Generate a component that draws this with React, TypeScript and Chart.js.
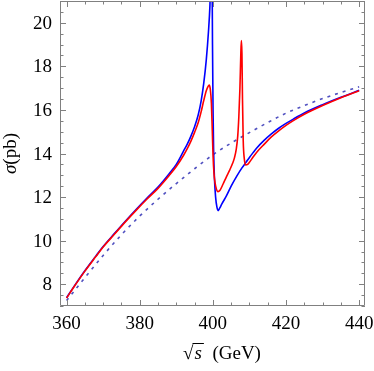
import React, { useEffect, useRef } from "react";
import { Chart, registerables } from "chart.js";

Chart.register(...registerables);

// Axis ranges and ticks
const X_MIN = 358.2;
const X_MAX = 441.6;
const Y_MIN = 7;
const Y_MAX = 21;
const xMajorTicks = [360, 380, 400, 420, 440];
const xTickLabels = ["360", "380", "400", "420", "440"];
const yMajorTicks = [8, 10, 12, 14, 16, 18, 20];
const yTickLabels = ["8", "10", "12", "14", "16", "18", "20"];
const X_MINOR_STEP = 5;
const Y_MINOR_STEP = 0.5;

// Red solid curve
const redX = [360, 362, 365, 368, 370, 373, 376, 379, 382, 385, 388, 390, 392, 393, 394, 395, 396, 396.8, 397.5, 398.2, 398.7, 399.0, 399.3, 399.6, 399.85, 400.05, 400.3, 400.6, 401.0, 401.4, 401.9, 402.8, 403.7, 404.6, 405.4, 405.9, 406.4, 406.8, 407.1, 407.4, 407.65, 407.8, 407.95, 408.1, 408.3, 408.6, 409.0, 409.5, 410, 411, 412, 414, 416, 418, 420, 422, 425, 430, 435, 440];
const redY = [7.36, 7.87, 8.6, 9.27, 9.71, 10.28, 10.85, 11.39, 11.91, 12.4, 12.98, 13.4, 13.92, 14.22, 14.57, 14.97, 15.42, 15.92, 16.43, 16.88, 17.08, 17.14, 16.95, 16.3, 15.0, 13.9, 13.1, 12.65, 12.35, 12.25, 12.3, 12.6, 12.93, 13.24, 13.55, 13.8, 14.2, 14.8, 15.69, 17.0, 18.6, 19.18, 18.6, 16.5, 14.6, 13.75, 13.47, 13.5, 13.6, 13.84, 14.06, 14.42, 14.76, 15.04, 15.29, 15.51, 15.8, 16.2, 16.56, 16.88];

// Blue solid curve
const blueX = [360, 362, 365, 368, 370, 373, 376, 379, 382, 385, 388, 390, 392, 393, 394, 395, 396, 396.8, 397.5, 398.2, 398.8, 399.2, 399.5, 399.7, 399.9, 400.05, 400.2, 400.45, 400.75, 401.1, 401.45, 401.9, 402.5, 403.7, 405, 406.5, 408, 409, 410, 411, 412, 414, 416, 418, 420, 422, 425, 430, 435, 440];
const blueY = [7.38, 7.89, 8.62, 9.29, 9.73, 10.31, 10.88, 11.43, 11.96, 12.46, 13.06, 13.5, 14.12, 14.43, 14.8, 15.23, 15.78, 16.42, 17.22, 18.3, 19.6, 20.8, 22.5, 24.0, 19.0, 16.0, 14.2, 12.8, 12.0, 11.55, 11.38, 11.5, 11.7, 12.05, 12.5, 12.95, 13.35, 13.58, 13.82, 14.04, 14.25, 14.6, 14.9, 15.16, 15.38, 15.58, 15.86, 16.24, 16.58, 16.9];

// Dashed curve
const dashX = [360, 365, 370, 375, 380, 385, 390, 395, 400, 405, 410, 415, 420, 425, 430, 435, 440];
const dashY = [7.25, 8.3, 9.32, 10.27, 11.13, 11.9, 12.62, 13.3, 13.94, 14.48, 14.96, 15.42, 15.85, 16.2, 16.52, 16.8, 17.06];

const FONT = "'Liberation Serif', 'Times New Roman', serif";
const FRAME_COLOR = "#808080";

const toPoints = (xs: number[], ys: number[]) => xs.map((x, i) => ({ x, y: ys[i] }));

const framePlugin = {
  id: "mmaFrame",
  afterDatasetsDraw(chart: any) {
    const { ctx, chartArea } = chart;
    const xs = chart.scales.x;
    const ys = chart.scales.y;
    const { left, right, top, bottom } = chartArea;
    ctx.save();
    // frame
    ctx.strokeStyle = FRAME_COLOR;
    ctx.lineWidth = 1;
    ctx.beginPath();
    ctx.rect(left + 0.5, top + 0.5, right - left - 1, bottom - top - 1);
    ctx.stroke();

    const MAJ = 6;
    const MIN = 3.5;
    ctx.beginPath();
    // x ticks
    for (let v = 360; v <= 440 + 1e-9; v += X_MINOR_STEP) {
      const px = Math.round(xs.getPixelForValue(v)) + 0.5;
      const len = xMajorTicks.includes(v) ? MAJ : MIN;
      ctx.moveTo(px, bottom);
      ctx.lineTo(px, bottom - len);
      ctx.moveTo(px, top);
      ctx.lineTo(px, top + len);
    }
    // y ticks
    for (let v = Y_MIN; v <= Y_MAX + 1e-9; v += Y_MINOR_STEP) {
      const py = Math.round(ys.getPixelForValue(v)) + 0.5;
      const len = yMajorTicks.includes(v) ? MAJ : MIN;
      ctx.moveTo(left, py);
      ctx.lineTo(left + len, py);
      ctx.moveTo(right, py);
      ctx.lineTo(right - len, py);
    }
    ctx.stroke();

    // tick labels
    ctx.fillStyle = "#000";
    ctx.font = `19px ${FONT}`;
    ctx.textBaseline = "alphabetic";
    ctx.textAlign = "center";
    xMajorTicks.forEach((v, i) => {
      ctx.fillText(xTickLabels[i], xs.getPixelForValue(v), bottom + 23);
    });
    ctx.textAlign = "right";
    yMajorTicks.forEach((v, i) => {
      ctx.fillText(yTickLabels[i], left - 8, ys.getPixelForValue(v) + 6);
    });

    // x title: sqrt(s) (GeV)
    ctx.textAlign = "left";
    const base = 359;
    const regular = `19px ${FONT}`;
    const italic = `italic 19px ${FONT}`;
    ctx.font = regular;
    const wSqrt = ctx.measureText("\u221A").width;
    const wRest = ctx.measureText("  (GeV)").width;
    ctx.font = italic;
    const wS = ctx.measureText("s").width;
    const total = wSqrt + wS + 2 + wRest;
    const x0 = 222 - total / 2;
    ctx.font = regular;
    ctx.fillText("\u221A", x0, base);
    ctx.font = italic;
    ctx.fillText("s", x0 + wSqrt + 1, base);
    ctx.strokeStyle = "#000";
    ctx.lineWidth = 1;
    ctx.beginPath();
    ctx.moveTo(x0 + wSqrt - 1, base - 15.5);
    ctx.lineTo(x0 + wSqrt + wS + 3, base - 15.5);
    ctx.stroke();
    ctx.font = regular;
    ctx.fillText("  (GeV)", x0 + wSqrt + wS + 2, base);

    // y title: sigma(pb)
    ctx.save();
    ctx.translate(16, 153.5);
    ctx.rotate(-Math.PI / 2);
    ctx.font = italic;
    const wSig = ctx.measureText("\u03C3").width;
    ctx.font = regular;
    const wPb = ctx.measureText("(pb)").width;
    const start = -(wSig + wPb) / 2;
    ctx.font = italic;
    ctx.fillText("\u03C3", start, 0);
    ctx.font = regular;
    ctx.fillText("(pb)", start + wSig, 0);
    ctx.restore();

    ctx.restore();
  },
};

export default function App() {
  const canvasRef = useRef<HTMLCanvasElement | null>(null);

  useEffect(() => {
    if (!canvasRef.current) return;
    const chart = new Chart(canvasRef.current, {
      type: "line",
      data: {
        datasets: [
          {
            label: "red",
            data: toPoints(redX, redY),
            borderColor: "#ff0000",
            borderWidth: 1.6,
            pointRadius: 0,
            cubicInterpolationMode: "monotone",
            fill: false,
          },
          {
            label: "blue",
            data: toPoints(blueX, blueY),
            borderColor: "#0000ff",
            borderWidth: 1.6,
            pointRadius: 0,
            cubicInterpolationMode: "monotone",
            fill: false,
          },
          {
            label: "dashed",
            data: toPoints(dashX, dashY),
            borderColor: "#5050c0",
            borderWidth: 1.6,
            borderDash: [3, 5],
            pointRadius: 0,
            cubicInterpolationMode: "monotone",
            fill: false,
          },
        ],
      },
      options: {
        responsive: false,
        animation: false,
        layout: { padding: { left: 60, right: 9, top: 1, bottom: 65 } },
        scales: {
          x: { type: "linear", min: X_MIN, max: X_MAX, display: false },
          y: { type: "linear", min: Y_MIN, max: Y_MAX, display: false },
        },
        plugins: {
          legend: { display: false },
          tooltip: { enabled: false },
          title: { display: false },
        },
      },
      plugins: [framePlugin],
    });
    return () => chart.destroy();
  }, []);

  return (
    <div style={{ position: "absolute", left: 0, top: 0, width: 374, height: 371, background: "#fff" }}>
      <canvas ref={canvasRef} width={374} height={371} style={{ display: "block" }} />
    </div>
  );
}
